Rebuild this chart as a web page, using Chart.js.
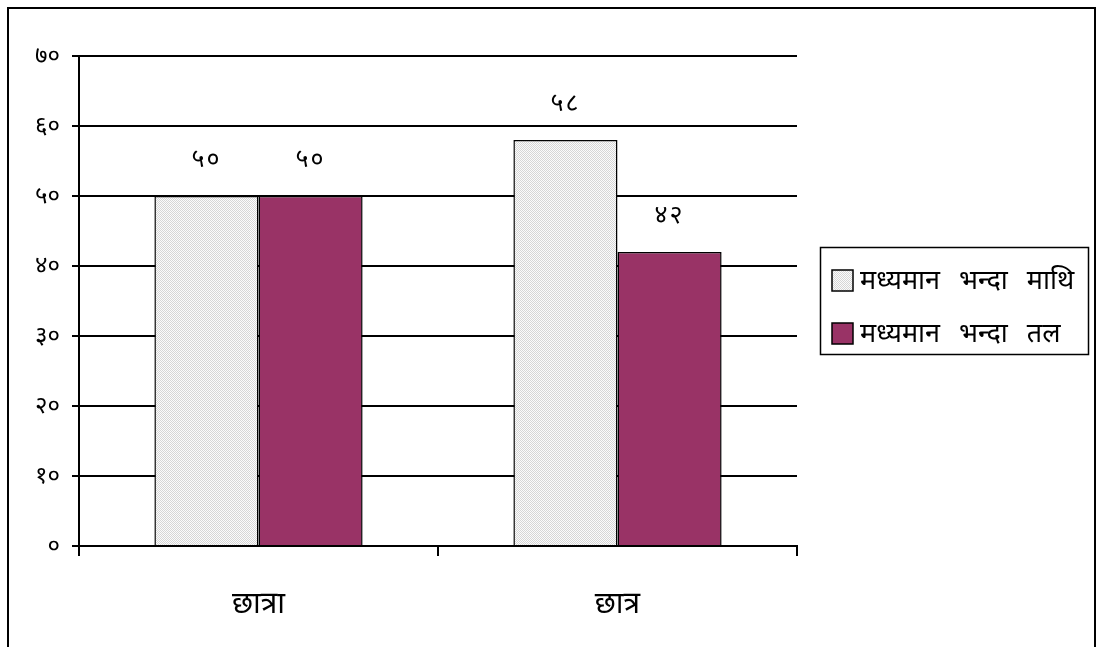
<!DOCTYPE html>
<html>
<head>
<meta charset="utf-8">
<script src="https://cdn.jsdelivr.net/npm/chart.js@4"></script>
<style>
html,body{margin:0;padding:0;background:#fff;}
#wrap{width:1097px;height:647px;position:relative;}
</style>
</head>
<body>
<div id="wrap"><canvas id="c" width="1097" height="647"></canvas></div>
<script>
const categories = ['छात्रा', 'छात्र'];
const seriesNames = ['मध्यमान भन्दा माथि', 'मध्यमान भन्दा तल'];
const aboveMean = [50, 58];
const belowMean = [50, 42];
const yTickMax = 70;
const yTickStep = 10;

const devDigits = ['०','१','२','३','४','५','६','७','८','९'];
function toDev(n){ return String(n).replace(/[0-9]/g, d => devDigits[+d]); }

const FONT = "'Noto Sans', 'DejaVu Sans', sans-serif";

function makeStipple(){
  const p = document.createElement('canvas');
  p.width = 2; p.height = 2;
  const g = p.getContext('2d');
  g.fillStyle = '#fbfbfb'; g.fillRect(0,0,2,2);
  g.fillStyle = '#d6d6d6'; g.fillRect(0,0,1,1); g.fillRect(1,1,1,1);
  return document.getElementById('c').getContext('2d').createPattern(p,'repeat');
}
const stipple = makeStipple();
const maroon = '#993366';

const frameAndLabels = {
  id: 'frameAndLabels',
  afterDraw(chart){
    const ctx = chart.ctx;
    ctx.save();
    ctx.strokeStyle = '#000'; ctx.lineWidth = 2;
    ctx.strokeRect(8, 8, 1087, 660);
    ctx.fillStyle = '#000';
    ctx.font = '25px ' + FONT;
    ctx.letterSpacing = '2px';
    ctx.textAlign = 'center'; ctx.textBaseline = 'middle';
    chart.data.datasets.forEach((ds, di) => {
      const meta = chart.getDatasetMeta(di);
      meta.data.forEach((bar, i) => {
        ctx.fillText(toDev(ds.data[i]), bar.x, bar.y - 36);
      });
    });
    ctx.letterSpacing = '0px';
    ctx.lineWidth = 1.5; ctx.strokeStyle = '#000';
    ctx.strokeRect(820.5, 247.5, 268, 107);
    ctx.font = '27px ' + FONT;
    ctx.wordSpacing = '12px';
    ctx.textAlign = 'left';
    chart.data.datasets.forEach((ds, di) => {
      const cy = 281 + di * 53;
      ctx.fillStyle = ds.backgroundColor;
      ctx.fillRect(832, cy - 11, 21, 21);
      ctx.strokeRect(832, cy - 11, 21, 21);
      ctx.fillStyle = '#000';
      ctx.fillText(ds.label, 860, cy);
    });
    ctx.restore();
  }
};

new Chart(document.getElementById('c'), {
  type: 'bar',
  data: {
    labels: categories,
    datasets: [
      { label: seriesNames[0], data: aboveMean, backgroundColor: stipple, borderColor: '#000', borderWidth: 1.5 },
      { label: seriesNames[1], data: belowMean, backgroundColor: maroon, borderColor: '#000', borderWidth: 1.5 }
    ]
  },
  options: {
    responsive: false,
    animation: false,
    devicePixelRatio: 1,
    layout: { padding: { left: 0, top: 56, right: 300, bottom: 0 } },
    datasets: { bar: { categoryPercentage: 0.58, barPercentage: 1 } },
    plugins: { legend: { display: false }, tooltip: { enabled: false } },
    scales: {
      x: {
        afterFit(s){ s.height = 101; },
        grid: { offset: true, drawOnChartArea: false, tickLength: 10, color: '#000', lineWidth: 2 },
        border: { color: '#000', width: 2 },
        ticks: { color: '#000', font: { family: FONT, size: 30 }, padding: 30 }
      },
      y: {
        min: 0, max: yTickMax,
        afterFit(s){ s.width = 79; },
        grid: { color: '#000', lineWidth: 2, tickLength: 7 },
        border: { color: '#000', width: 2 },
        ticks: { stepSize: yTickStep, color: '#000', font: { family: FONT, size: 24 }, padding: 12,
                 callback: v => toDev(v) }
      }
    }
  },
  plugins: [frameAndLabels]
});
</script>
</body>
</html>
